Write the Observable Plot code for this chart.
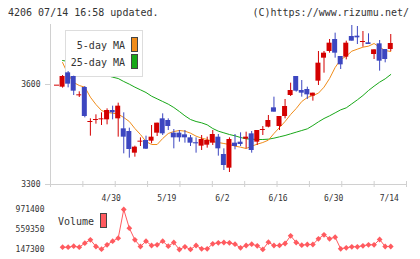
<!DOCTYPE html>
<html><head><meta charset="utf-8">
<script src="https://cdn.jsdelivr.net/npm/d3@7"></script>
<script src="https://cdn.jsdelivr.net/npm/@observablehq/plot@0.6"></script>
<style>
body{margin:0;background:#fff;width:420px;height:259px;overflow:hidden;position:relative;font-family:"DejaVu Sans Mono",monospace;color:#333}
.abs{position:absolute}
.t10{font-size:10px;line-height:12px;white-space:pre}
.sw{position:absolute;box-sizing:border-box;width:7px;height:15px;border:1px solid #444}
</style></head><body>
<div class="abs t10" style="left:8px;top:7px">4206 07/14 16:58 updated.</div>
<div class="abs t10" style="right:11px;top:7px">(C)https://www.rizumu.net/</div>
<div id="layerA" class="abs" style="left:0;top:0"></div>
<div id="vol" class="abs" style="left:0;top:200px"></div>
<div class="abs" style="left:65px;top:30px;width:78px;height:47px;box-sizing:border-box;border:1px solid #ddd;background:#fff">
  <div class="abs t10" style="right:17px;top:9px">5-day MA</div>
  <div class="abs t10" style="right:17px;top:26px">25-day MA</div>
  <div class="sw" id="swO" style="left:65px;top:6px"></div>
  <div class="sw" id="swG" style="left:65px;top:23px"></div>
</div>
<div id="layerB" class="abs" style="left:0;top:0"></div>
<div class="abs t10" style="left:58px;top:216px">Volume</div>
<div class="sw" id="swV" style="left:100px;top:213px"></div>
<script>
const RED="#d40000", BLUE="#3c46c0", ORANGE="#f08c1a", GREEN="#18a818", VOLC="#ff5a5f", AXIS="#d0d0d0", TEXT="#333";

// candles, index 0..60
const openP  = [3598,3592,3635,3624,3569,3591,3489,3495,3497,3494,3522,3497,3467,3459,3394,3430,3432,3430,3454,3497,3492,3454,3454,3449,3440,3426,3415,3418,3424,3442,3390,3349,3424,3427,3436,3452,3427,3465,3472,3530,3474,3504,3567,3624,3582,3585,3565,3610,3679,3699,3735,3684,3682,3744,3745,3729,3725,3690,3722,3705,3705];
const highP  = [3598,3627,3639,3625,3578,3594,3497,3509,3515,3527,3535,3544,3515,3469,3415,3440,3445,3477,3484,3512,3497,3465,3462,3462,3447,3440,3447,3442,3462,3450,3407,3440,3450,3455,3457,3459,3462,3474,3507,3562,3504,3555,3604,3624,3612,3592,3574,3699,3699,3735,3754,3684,3730,3777,3774,3759,3752,3704,3732,3705,3750];
const lowP   = [3598,3589,3590,3567,3561,3500,3445,3481,3477,3479,3494,3442,3392,3379,3382,3414,3405,3422,3444,3447,3462,3407,3427,3424,3414,3394,3402,3409,3417,3385,3342,3336,3404,3414,3407,3394,3417,3447,3470,3517,3462,3497,3564,3577,3562,3555,3550,3597,3634,3694,3679,3645,3674,3730,3720,3712,3720,3675,3640,3665,3699];
const closeP = [3598,3624,3601,3580,3569,3504,3489,3495,3497,3522,3515,3535,3442,3405,3412,3430,3406,3442,3484,3452,3474,3440,3440,3440,3424,3425,3435,3432,3450,3407,3357,3435,3414,3420,3442,3402,3462,3465,3492,3517,3504,3534,3582,3580,3574,3569,3574,3664,3694,3724,3694,3659,3724,3730,3740,3729,3720,3704,3670,3675,3723];
// moving averages and volume, index 1..60
const ma5  = [3666,3630,3606,3597,3592,3562,3540,3522,3516,3514,3511,3501,3489,3468,3450,3429,3420,3420,3438,3453,3459,3462,3460,3454,3445,3439,3435,3429,3426,3423,3420,3415,3412,3408,3415,3421,3426,3433,3453,3471,3489,3510,3528,3549,3561,3567,3574,3592,3618,3651,3675,3685,3700,3706,3712,3715,3723,3712,3702,3699];
const ma25 = [3672,3669,3663,3657,3651,3645,3639,3633,3627,3622,3618,3609,3601,3592,3584,3576,3565,3557,3549,3541,3531,3519,3506,3495,3489,3485,3479,3468,3460,3455,3450,3446,3441,3437,3436,3435,3435,3436,3439,3443,3447,3452,3457,3462,3467,3477,3488,3498,3506,3515,3524,3530,3542,3554,3567,3582,3595,3607,3617,3630];
const volume = [194700,194700,215300,194700,277100,347100,209100,153500,244100,318300,380100,971400,586100,347100,209100,318300,229700,244100,318300,215300,291500,147300,202900,149800,229700,161700,162500,264700,285300,291500,285300,256500,182300,229700,256500,223500,148500,297700,229700,231000,270900,429600,291500,235900,250300,250300,367700,450200,367700,400700,161700,182300,202900,202900,223500,244100,244100,353300,209100,209100];
const yTicks = [3300, 3600];
const volTicks = [147300, 559350, 971400];
const dateLabels = ["4/30","5/19","6/2","6/16","6/30","7/14"];
const dateIdx = [10,20,30,40,50,60];

document.getElementById("swO").style.background = ORANGE;
document.getElementById("swG").style.background = GREEN;
document.getElementById("swV").style.background = VOLC;

const lo = -1.17, hi = 62.83;
const xTicks = d3.range(12).map(k => lo + k * (hi - lo) / 11);
const candles = openP.map((o, i) => ({i, open: o, high: highP[i], low: lowP[i], close: closeP[i]}));
const col = d => d.close >= d.open ? RED : BLUE;
const ma5d = ma5.map((v, k) => ({i: k + 1, v}));
const ma25d = ma25.map((v, k) => ({i: k + 1, v}));
const vold = volume.map((v, k) => ({i: k + 1, v}));
const style = {fontFamily: "DejaVu Sans Mono, monospace", fontSize: "8px", color: TEXT, overflow: "visible", background: "transparent"};
const frame = {width: 420, height: 200, marginLeft: 50, marginRight: 14, marginTop: 24, marginBottom: 16};

const A = Plot.plot({
  ...frame, style,
  x: {domain: [lo, hi], label: null}, y: {domain: [3300, 3780], label: null},
  marks: [
    Plot.ruleY([3300], {stroke: AXIS}),
    Plot.ruleX([lo], {stroke: AXIS, insetBottom: -3}),
    Plot.ruleX(xTicks, {x: d => d, stroke: AXIS, insetTop: 157, insetBottom: -3}),
    Plot.axisY(yTicks, {label: null, tickSize: 5, tickPadding: 5, stroke: AXIS, fill: TEXT, tickFormat: d => String(d)}),
    Plot.axisX(dateIdx, {label: null, tickSize: 0, tickPadding: 11, fill: TEXT, dx: -1.5, tickFormat: d => dateLabels[dateIdx.indexOf(d)]}),
    Plot.line(ma25d, {x: "i", y: "v", stroke: GREEN, strokeWidth: 1}),
    Plot.line(ma5d, {x: "i", y: "v", stroke: ORANGE, strokeWidth: 1})
  ]
});
document.getElementById("layerA").appendChild(A);

const B = Plot.plot({
  ...frame, style,
  x: {domain: [lo, hi], axis: null, label: null}, y: {domain: [3300, 3780], axis: null, label: null},
  color: {type: "identity"},
  marks: [
    Plot.ruleX(candles, {x: "i", y1: "low", y2: "high", stroke: col}),
    Plot.rect(candles, {x1: d => d.i - 0.45, x2: d => d.i + 0.45, y1: "open", y2: "close", fill: col}),
    Plot.ruleY(candles.filter(d => Math.abs(d.close - d.open) < 2), {y: "close", x1: d => d.i - 0.45, x2: d => d.i + 0.45, stroke: col})
  ]
});
document.getElementById("layerB").appendChild(B);

const diamond = {draw(ctx, size) { const h = Math.sqrt(size / 2); ctx.moveTo(0, -h); ctx.lineTo(h, 0); ctx.lineTo(0, h); ctx.lineTo(-h, 0); ctx.closePath(); }};
const V = Plot.plot({
  width: 420, height: 59, marginLeft: 50, marginRight: 14, marginTop: 9, marginBottom: 10, style,
  x: {domain: [lo, hi], axis: null, label: null}, y: {domain: [147300, 971400], label: null},
  marks: [
    Plot.axisY(volTicks, {label: null, tickSize: 0, tickPadding: 6, fill: TEXT, tickFormat: d => String(d)}),
    Plot.line(vold, {x: "i", y: "v", stroke: VOLC, strokeWidth: 1}),
    Plot.dot(vold, {x: "i", y: "v", symbol: diamond, r: 2.3, fill: VOLC})
  ]
});
document.getElementById("vol").appendChild(V);
</script>
</body></html>
